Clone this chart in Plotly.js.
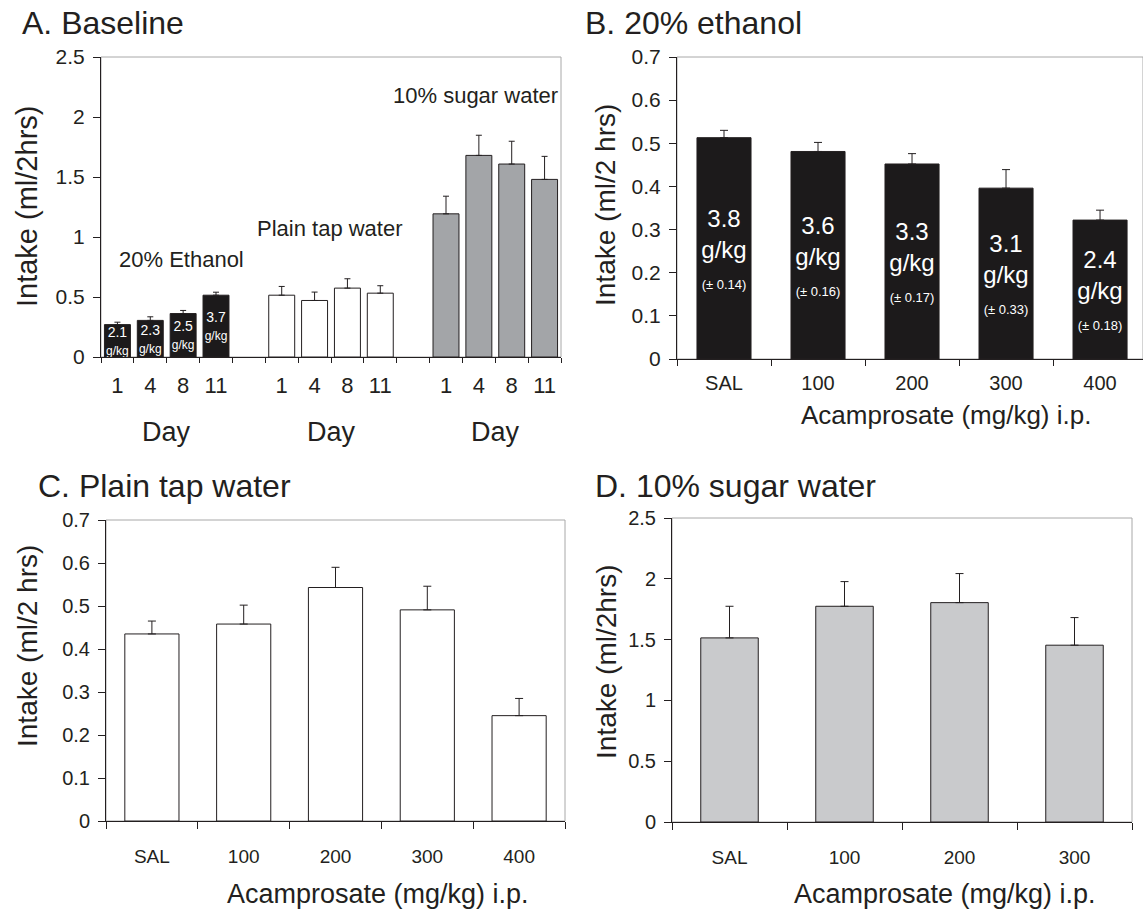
<!DOCTYPE html>
<html><head><meta charset="utf-8">
<script src="https://cdn.plot.ly/plotly-3.0.1.min.js"></script>
<style>html,body{margin:0;padding:0;background:#fff}#chart{width:1143px;height:910px}</style>
</head><body><div id="chart"></div>
<script>
// ---------- data ----------
const baselineDays = ["1", "4", "8", "11"];
const baselineEthanol = [0.27, 0.305, 0.362, 0.515];
const baselineEthanolSem = [0.02, 0.03, 0.026, 0.025];
const baselineEthanolDose = ["2.1", "2.3", "2.5", "3.7"];
const baselineWater = [0.515, 0.471, 0.574, 0.532];
const baselineWaterSem = [0.073, 0.07, 0.078, 0.062];
const baselineSugar = [1.193, 1.68, 1.608, 1.48];
const baselineSugarSem = [0.147, 0.168, 0.19, 0.192];
const groupNames = ["20% Ethanol", "Plain tap water", "10% sugar water"];

const doses = ["SAL", "100", "200", "300", "400"];
const ethanolIntake = [0.513, 0.481, 0.452, 0.396, 0.322];
const ethanolSem = [0.017, 0.021, 0.024, 0.043, 0.023];
const ethanolDose = ["3.8", "3.6", "3.3", "3.1", "2.4"];
const ethanolDoseSem = ["0.14", "0.16", "0.17", "0.33", "0.18"];

const waterIntake = [0.435, 0.458, 0.543, 0.491, 0.245];
const waterSem = [0.03, 0.044, 0.047, 0.055, 0.04];

const sugarDoses = ["SAL", "100", "200", "300"];
const sugarIntake = [1.514, 1.774, 1.804, 1.454];
const sugarSem = [0.26, 0.203, 0.239, 0.227];

// ---------- styling ----------
const FONT = "Liberation Sans, Arial, Helvetica, sans-serif";
const INK = "#231f20";
const W = 1143, H = 910;
const px = v => v / W;
const py = v => 1 - v / H;

// Panel A category ids (gap slots between groups)
const idsE = baselineDays.map(d => "E" + d);
const idsW = baselineDays.map(d => "W" + d);
const idsS = baselineDays.map(d => "S" + d);
const catA = [...idsE, "gap1", ...idsW, "gap2", ...idsS];
const txtA = [...baselineDays, "", ...baselineDays, "", ...baselineDays];

function errs(sem, w) {
  return {type: "data", array: sem, arrayminus: sem.map(() => 0), symmetric: false,
          color: INK, thickness: 1, width: w};
}
function bar(x, y, sem, color, xa, ya, width, ew, extra) {
  return Object.assign({
    type: "bar", x: x, y: y, xaxis: xa, yaxis: ya, width: width,
    marker: {color: color, line: {color: INK, width: 1}},
    error_y: errs(sem, ew), hoverinfo: "x+y", showlegend: false
  }, extra || {});
}

const traces = [
  bar(idsE, baselineEthanol, baselineEthanolSem, "#1c1a1b", "x", "y", 0.79, 3, {
    text: baselineEthanolDose.map(d => d + '<br><span style="font-size:12px">g/kg</span>'),
    textposition: "inside", insidetextanchor: "middle", constraintext: "none",
    textfont: {family: FONT, size: 14, color: "#ffffff"}, textangle: 0
  }),
  bar(idsW, baselineWater, baselineWaterSem, "#ffffff", "x", "y", 0.79, 3),
  bar(idsS, baselineSugar, baselineSugarSem, "#a3a5a8", "x", "y", 0.79, 3),
  bar(doses, ethanolIntake, ethanolSem, "#1c1a1b", "x2", "y2", 0.575, 4, {
    text: ethanolDose.map((d, i) => d + '<br>g/kg<br><span style="font-size:13px">(± ' + ethanolDoseSem[i] + ')</span>'),
    textposition: "inside", insidetextanchor: "middle", constraintext: "none",
    textfont: {family: FONT, size: 24, color: "#ffffff"}, textangle: 0
  }),
  bar(doses, waterIntake, waterSem, "#ffffff", "x3", "y3", 0.59, 4),
  bar(sugarDoses, sugarIntake, sugarSem, "#c9cacc", "x4", "y4", 0.5, 4)
];

function xAxis(domain, anchor, cats, labels, range, size, standoff, tl) {
  return {
    domain: domain, anchor: anchor, type: "category",
    categoryorder: "array", categoryarray: cats,
    tickmode: "array", tickvals: cats, ticktext: labels,
    range: range, tickson: "boundaries", ticks: "outside", ticklen: tl, tickwidth: 1,
    tickcolor: INK, showline: true, linecolor: INK, linewidth: 1,
    showgrid: false, zeroline: false, fixedrange: true,
    tickfont: {family: FONT, size: size, color: INK}, ticklabelstandoff: standoff
  };
}
function yAxis(domain, anchor, range, dtick, size) {
  return {
    domain: domain, anchor: anchor, range: range, dtick: dtick, tick0: 0,
    ticks: "outside", ticklen: 7, tickwidth: 1, tickcolor: INK,
    showline: true, linecolor: INK, linewidth: 1, showgrid: false, zeroline: false,
    fixedrange: true, tickfont: {family: FONT, size: size, color: INK}, ticklabelstandoff: 4
  };
}

const layout = {
  width: W, height: H, margin: {l: 0, r: 0, t: 0, b: 0},
  paper_bgcolor: "#ffffff", plot_bgcolor: "#ffffff",
  barmode: "overlay", showlegend: false,
  font: {family: FONT, color: INK},
  xaxis: xAxis([px(101), px(561)], "y", catA, txtA, [-0.5, 13.5], 22, 9, 5),
  yaxis: yAxis([py(357), py(57)], "x", [0, 2.5], 0.5, 21),
  xaxis2: xAxis([px(677), 1], "y2", doses, doses, [-0.5, 4.457], 20, 6, 6),
  yaxis2: yAxis([py(359), py(57)], "x2", [0, 0.7], 0.1, 21),
  xaxis3: xAxis([px(106), px(565)], "y3", doses, doses, [-0.5, 4.5], 19, 18, 7),
  yaxis3: yAxis([py(821), py(520)], "x3", [0, 0.7], 0.1, 20),
  xaxis4: xAxis([px(672), px(1132)], "y4", sugarDoses, sugarDoses, [-0.5, 3.5], 19, 18, 7),
  yaxis4: yAxis([py(822), py(518)], "x4", [0, 2.5], 0.5, 20),
  shapes: [["x", "y"], ["x2", "y2"], ["x3", "y3"], ["x4", "y4"]].map(([a, b]) => ({
    type: "rect", xref: a + " domain", yref: b + " domain", x0: 0, x1: 1, y0: 0, y1: 1,
    line: {color: "#a8a8a8", width: 1}, layer: "below"
  })),
  annotations: []
};

const ann = layout.annotations;
function paperText(text, x, y, size, opts) {
  ann.push(Object.assign({text: text, xref: "paper", yref: "paper", x: px(x), y: py(y),
    xanchor: "center", yanchor: "middle", showarrow: false,
    font: {family: FONT, size: size, color: INK}}, opts || {}));
}
// panel titles
paperText("A. Baseline", 20, 23, 32, {xanchor: "left"});
paperText("B. 20% ethanol", 583, 23, 32, {xanchor: "left"});
paperText("C. Plain tap water", 36, 486, 32, {xanchor: "left"});
paperText("D. 10% sugar water", 593, 486, 32, {xanchor: "left"});
// y-axis titles
paperText("Intake (ml/2hrs)", 27, 207, 29, {textangle: -90});
paperText("Intake (ml/2 hrs)", 606, 205, 28, {textangle: -90});
paperText("Intake (ml/2 hrs)", 27, 646, 28, {textangle: -90});
paperText("Intake (ml/2hrs)", 606, 662, 28, {textangle: -90});
// x-axis titles
paperText("Acamprosate (mg/kg) i.p.", 946, 415, 26);
paperText("Acamprosate (mg/kg) i.p.", 378, 894, 27);
paperText("Acamprosate (mg/kg) i.p.", 945, 894, 27);
// panel A: "Day" under each group and group names
[1.5, 6.5, 11.5].forEach(c => ann.push({text: "Day", xref: "x", yref: "y domain", x: c, y: -0.25,
  xanchor: "center", yanchor: "middle", showarrow: false, font: {family: FONT, size: 27, color: INK}}));
[[1.96, 0.81], [6.47, 1.075], [10.9, 2.18]].forEach(([c, v], i) => ann.push({
  text: groupNames[i], xref: "x", yref: "y", x: c, y: v, xanchor: "center", yanchor: "middle",
  showarrow: false, font: {family: FONT, size: 22, color: INK}}));

Plotly.newPlot("chart", traces, layout, {staticPlot: true, displayModeBar: false});
</script>
</body></html>
